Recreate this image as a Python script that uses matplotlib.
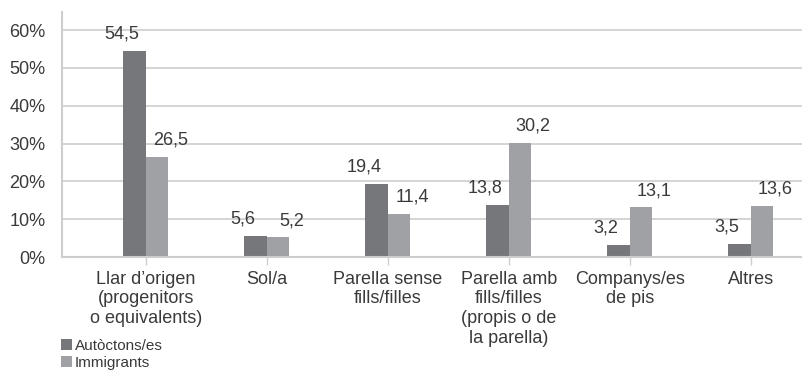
import matplotlib
matplotlib.use("Agg")
import matplotlib.pyplot as plt
import numpy as np

categories = ["Llar d\u2019origen\n(progenitors\no equivalents)", "Sol/a",
              "Parella sense\nfills/filles", "Parella amb\nfills/filles\n(propis o de\nla parella)",
              "Companys/es\nde pis", "Altres"]
autoctons = [54.5, 5.6, 19.4, 13.8, 3.2, 3.5]
immigrants = [26.5, 5.2, 11.4, 30.2, 13.1, 13.6]
series_names = ["Aut\u00f2ctons/es", "Immigrants"]
yticks = [0, 10, 20, 30, 40, 50, 60]

plt.rcParams['font.family'] = ['Liberation Sans', 'DejaVu Sans']
text_color = '#3a3a3a'
dark = '#76777b'
light = '#a0a1a5'
gridc = '#cdcdcd'
fs = 13

fig = plt.figure(figsize=(8.03, 3.71), dpi=100)
ax = fig.add_axes([62/803, 1-257/371, 1-62/803, (257-12)/371])

x = np.arange(len(categories))
w = 0.186
b1 = ax.bar(x - w/2, autoctons, width=w, color=dark, label=series_names[0], zorder=3)
b2 = ax.bar(x + w/2, immigrants, width=w, color=light, label=series_names[1], zorder=3)

def fmt(v):
    return f"{v:.1f}".replace('.', ',')

for xi, v in zip(x, autoctons):
    ax.annotate(fmt(v), (xi - w/2, v), xytext=(-9.4, 8.6), textcoords='offset points',
                ha='center', va='baseline', fontsize=fs, color=text_color)
for xi, v in zip(x, immigrants):
    ax.annotate(fmt(v), (xi + w/2, v), xytext=(9.4, 8.6), textcoords='offset points',
                ha='center', va='baseline', fontsize=fs, color=text_color)

ax.set_xlim(-0.694, 5.43)
ax.set_ylim(0, 64.8)
ax.set_yticks(yticks)
ax.set_yticklabels([f"{t}%" for t in yticks], fontsize=fs, color=text_color)
ax.set_xticks(x)
ax.set_xticklabels(categories, fontsize=fs, color=text_color, linespacing=1.2)
ax.tick_params(axis='y', length=0, pad=12)
ax.tick_params(axis='x', length=6, width=1, color=gridc, pad=4)
ax.yaxis.grid(True, color=gridc, linewidth=1.2, zorder=0)
ax.set_axisbelow(True)
for s in ['top', 'right']:
    ax.spines[s].set_visible(False)
ax.spines['left'].set_color(gridc)
ax.spines['left'].set_linewidth(1.5)
ax.spines['bottom'].set_color(gridc)
ax.spines['bottom'].set_linewidth(1.5)
ax.spines['bottom'].set_zorder(4)

fig.legend(handles=[b1, b2], labels=series_names, loc='upper left',
           bbox_to_anchor=(61/803, 1-339/371), frameon=False, fontsize=11,
           handlelength=0.7, handleheight=0.7, handletextpad=0.2,
           labelspacing=0.2, borderpad=0, borderaxespad=0, labelcolor=text_color)

fig.savefig("out.png", dpi=100)
